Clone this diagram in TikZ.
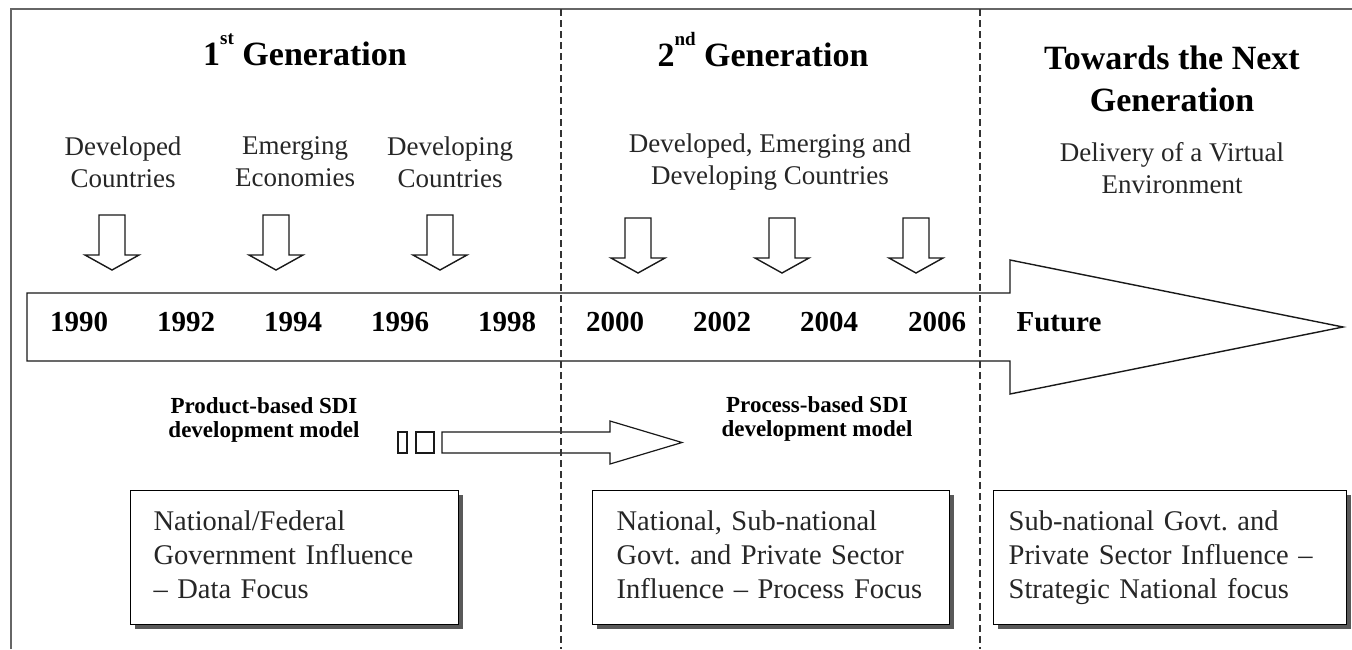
\documentclass[tikz,border=0pt]{standalone}
\usepackage{fontspec}
\setmainfont{Liberation Serif}
\usetikzlibrary{shadows}
\frenchspacing
\newcommand{\ordsup}[1]{\raisebox{0.62em}{\fontsize{19}{19}\selectfont\bfseries #1}}
\begin{document}
\begin{tikzpicture}[x=1pt,y=-1pt,
  title/.style={font=\fontsize{34}{42}\selectfont\bfseries, align=center},
  label/.style={font=\fontsize{27}{32}\selectfont, align=center, text=black!85},
  year/.style={font=\fontsize{29}{34}\selectfont\bfseries},
  model/.style={font=\fontsize{23}{24}\selectfont\bfseries, align=center},
  infobox/.style={draw, line width=1.3pt, fill=white, align=left, anchor=north west,
    minimum height=134pt, inner ysep=0pt,
    font=\fontsize{28.5}{34}\selectfont, text=black!85,
    drop shadow={shadow xshift=4pt, shadow yshift=-4pt, fill=black!65, opacity=1}},
  divider/.style={dash pattern=on 7pt off 4pt, line width=1.2pt, black!80},
  outline/.style={draw=black!90, line width=1.4pt, fill=white, line join=miter},
  downarrow/.pic={\draw[outline] (-13,-55) -- (13,-55) -- (13,-15) -- (27,-15) -- (0,0)
    -- (-27,-15) -- (-13,-15) -- cycle;}
]
\useasboundingbox (0,0) rectangle (1352,649);

% frame
\draw[black!60, line width=2pt] (11,649) -- (11,9) -- (1352,9);

% headings
\node[title] (g1) at (305,50) {1\ordsup{st} Generation};
\node[title] (g2) at (763,50) {2\ordsup{nd} Generation};
\node[title] (g3) at (1172,79) {Towards the Next\\Generation};

% country groups
\node[label] (c1) at (123,162) {Developed\\Countries};
\node[label] (c2) at (295,162) {Emerging\\Economies};
\node[label] (c3) at (450,162) {Developing\\Countries};
\node[label] (c4) at (770,162) {Developed, Emerging and\\Developing Countries};
\node[label] (c5) at (1172,168) {Delivery of a Virtual\\Environment};

% downward arrows
\pic at (112,270) {downarrow};
\pic at (276,270) {downarrow};
\pic at (440,270) {downarrow};
\pic at (638,273) {downarrow};
\pic at (782,273) {downarrow};
\pic at (916,273) {downarrow};

% timeline arrow
\draw[outline] (27,293) -- (1010,293) -- (1010,260) -- (1343,327) -- (1010,394)
  -- (1010,361) -- (27,361) -- cycle;
\node[year] (y1990) at (79,322) {1990};
\node[year] (y1992) at (186,322) {1992};
\node[year] (y1994) at (293,322) {1994};
\node[year] (y1996) at (400,322) {1996};
\node[year] (y1998) at (507,322) {1998};
\node[year] (y2000) at (615,322) {2000};
\node[year] (y2002) at (722,322) {2002};
\node[year] (y2004) at (829,322) {2004};
\node[year] (y2006) at (937,322) {2006};
\node[year] (fut) at (1059,322) {Future};

% model transition
\node[model] (m1) at (264,420) {Product-based SDI\\development model};
\node[model] (m2) at (817,419) {Process-based SDI\\development model};
\draw[outline, line width=1.2pt] (398,432) rectangle (407,453);
\draw[outline, line width=1.2pt] (416,432) rectangle (434,453);
\draw[outline, line width=1.2pt] (442,432) -- (610,432) -- (610,421) -- (682,442.5)
  -- (610,464) -- (610,453) -- (442,453) -- cycle;

% era dividers
\draw[divider] (561,9) -- (561,649);
\draw[divider] (980,9) -- (980,649);

% influence boxes
\node[infobox, inner xsep=23pt, text width=282pt] (b1) at (130,490)
  {\strut National/Federal\\Government Influence\\-- Data Focus\strut};
\node[infobox, inner xsep=24pt, text width=309pt] (b2) at (592,490)
  {\strut National, Sub-national\\Govt. and Private Sector\\Influence -- Process Focus\strut};
\node[infobox, inner xsep=15pt, text width=323pt] (b3) at (993,490)
  {\strut Sub-national Govt. and\\Private Sector Influence --\\Strategic National focus\strut};
\end{tikzpicture}
\end{document}
